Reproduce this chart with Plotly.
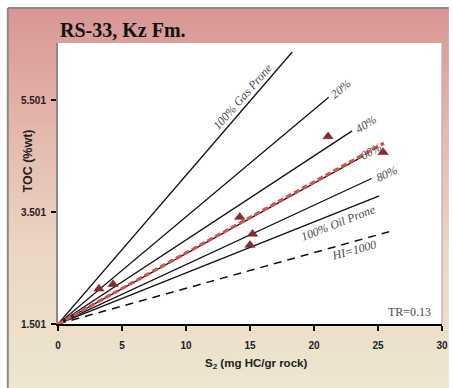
import math
import plotly.graph_objects as go

# ---------------- data ----------------
s2_samples = [3.2, 4.3, 14.2, 15.2, 15.0, 21.1, 25.4]
toc_samples = [2.13, 2.21, 3.41, 3.11, 2.91, 4.85, 4.57]

origin_s2 = 0.0
origin_toc = 1.501

line_labels = ["100% Gas Prone", "20%", "40%", "60%", "80%", "100% Oil Prone"]
line_end_s2 = [18.3, 21.15, 22.98, 23.85, 24.5, 25.1]
line_end_toc = [6.36, 5.55, 4.95, 4.50, 4.10, 3.79]

hi_label = "HI=1000"
hi_end_s2 = 25.87
hi_end_toc = 3.15

trend_end_s2 = 25.46
trend_end_toc = 4.73

x_tickvals = [0, 5, 10, 15, 20, 25, 30]
y_tickvals = [1.501, 3.501, 5.501]
y_ticktext = ["1.501", "3.501", "5.501"]

title_text = "RS-33, Kz Fm."
x_title = "S<sub>2</sub> (mg HC/gr rock)"
y_title = "TOC (%wt)"
tr_label = "TR=0.13"
tr_pos = (27.46, 1.72)

# ---------------- geometry / style ----------------
W, H = 453, 388
ML, MR, MT, MB = 58, 5, 43, 64
PW, PH = W - ML - MR, H - MT - MB
XR = [0, 30]
YR = [1.501, 6.52]
PX_PER_X = PW / (XR[1] - XR[0])
PX_PER_Y = PH / (YR[1] - YR[0])


def px_angle(x0, y0, x1, y1):
    dx = (x1 - x0) * PX_PER_X
    dy = (y1 - y0) * PX_PER_Y
    return math.degrees(math.atan2(dy, dx))


def px_to_paper_x(px):
    return (px - ML) / PW


def px_to_paper_y(py):
    return (H - MB - py) / PH


fig = go.Figure()

# reference lines
for lbl, xe, ye in zip(line_labels, line_end_s2, line_end_toc):
    fig.add_trace(go.Scatter(x=[origin_s2, xe], y=[origin_toc, ye], mode="lines",
                             line=dict(color="#111111", width=1.3),
                             hoverinfo="skip", showlegend=False))

fig.add_trace(go.Scatter(x=[origin_s2, hi_end_s2], y=[origin_toc, hi_end_toc], mode="lines",
                         line=dict(color="#111111", width=1.5, dash="8px,6px"),
                         hoverinfo="skip", showlegend=False))

fig.add_trace(go.Scatter(x=[origin_s2, trend_end_s2], y=[origin_toc, trend_end_toc], mode="lines",
                         line=dict(color="#d4524e", width=3.2, dash="6px,3px"),
                         hoverinfo="skip", showlegend=False))

fig.add_trace(go.Scatter(x=s2_samples, y=toc_samples, mode="markers",
                         marker=dict(symbol="triangle-up", size=9, color="#8c2b2b",
                                     line=dict(width=0.5, color="#5a1a1a")),
                         showlegend=False))

# label placement (fraction along line, pixel shifts)
label_place = [(0.786, 0, 13.6), (1.0, 12, 8), (1.0, 14, 6.7), (1.0, 8, 5),
               (1.0, 15, 4), (0.872, 0, -11)]
lab_font = dict(family="Liberation Serif", size=12, color="#4a4a4a", style="italic")

annotations = []
for lbl, xe, ye, (t, xs, ys) in zip(line_labels, line_end_s2, line_end_toc, label_place):
    ang = px_angle(origin_s2, origin_toc, xe, ye)
    annotations.append(dict(x=origin_s2 + t * (xe - origin_s2), y=origin_toc + t * (ye - origin_toc),
                            xref="x", yref="y", text=lbl, showarrow=False, textangle=-ang,
                            xshift=xs, yshift=ys, xanchor="center", yanchor="middle", font=lab_font))

t_hi = 0.895
annotations.append(dict(x=origin_s2 + t_hi * (hi_end_s2 - origin_s2),
                        y=origin_toc + t_hi * (hi_end_toc - origin_toc),
                        xref="x", yref="y", text=hi_label, showarrow=False,
                        textangle=-px_angle(origin_s2, origin_toc, hi_end_s2, hi_end_toc),
                        xshift=0, yshift=-8.6, font=lab_font))

annotations.append(dict(x=tr_pos[0], y=tr_pos[1], xref="x", yref="y", text=tr_label,
                        showarrow=False, font=dict(family="Liberation Serif", size=12, color="#4a4a4a")))

annotations.append(dict(x=0, y=px_to_paper_y(30), xref="paper", yref="paper", text=title_text,
                        showarrow=False, xanchor="left", yanchor="middle",
                        font=dict(family="Liberation Serif", size=20, color="#111111", weight="bold")))

annotations.append(dict(x=px_to_paper_x(259), y=px_to_paper_y(364), xref="paper", yref="paper",
                        text=x_title, showarrow=False, xanchor="center", yanchor="middle",
                        font=dict(family="Liberation Sans", size=11.5, color="#222222", weight="bold")))

annotations.append(dict(x=px_to_paper_x(28), y=px_to_paper_y(161), xref="paper", yref="paper",
                        text=y_title, showarrow=False, textangle=-90, xanchor="center", yanchor="middle",
                        font=dict(family="Liberation Sans", size=12.5, color="#222222", weight="bold")))

# background gradient (styling)
stops = [(8, (216, 150, 148)), (130, (228, 184, 172)), (250, (234, 215, 195)), (388, (237, 230, 208))]


def grad(py):
    for (p0, c0), (p1, c1) in zip(stops[:-1], stops[1:]):
        if p0 <= py <= p1:
            f = (py - p0) / (p1 - p0)
            return "rgb(%d,%d,%d)" % tuple(round(a + (b - a) * f) for a, b in zip(c0, c1))
    return "rgb(%d,%d,%d)" % stops[-1][1]


shapes = []
for py in range(8, 388, 2):
    shapes.append(dict(type="rect", xref="paper", yref="paper", layer="below",
                       x0=px_to_paper_x(7), x1=px_to_paper_x(W + 2),
                       y0=px_to_paper_y(py + 2.6), y1=px_to_paper_y(py),
                       fillcolor=grad(py + 1), line=dict(width=0)))
shapes.append(dict(type="rect", xref="paper", yref="paper", layer="below",
                   x0=0, x1=1, y0=0, y1=1, fillcolor="white", line=dict(width=0)))
shapes.append(dict(type="line", xref="paper", yref="paper", layer="below",
                   x0=1, x1=1, y0=0, y1=1, line=dict(color="#c9b3ae", width=1.5)))
shapes.append(dict(type="line", xref="paper", yref="paper", layer="below",
                   x0=px_to_paper_x(7), x1=px_to_paper_x(W + 2), y0=px_to_paper_y(8), y1=px_to_paper_y(8),
                   line=dict(color="#8a8a8a", width=2)))
shapes.append(dict(type="line", xref="paper", yref="paper", layer="below",
                   x0=px_to_paper_x(7), x1=px_to_paper_x(7), y0=px_to_paper_y(8), y1=px_to_paper_y(H + 2),
                   line=dict(color="#8a8a8a", width=2)))

tick_font = dict(family="Liberation Sans", size=10, color="#222222", weight="bold")

fig.update_layout(
    width=W, height=H,
    margin=dict(l=ML, r=MR, t=MT, b=MB),
    paper_bgcolor="white", plot_bgcolor="white",
    showlegend=False,
    shapes=shapes, annotations=annotations,
    xaxis=dict(range=XR, tickvals=x_tickvals, showgrid=False, zeroline=False,
               showline=True, linecolor="#000000", linewidth=1.5,
               ticks="outside", ticklen=5, tickwidth=1.5, tickcolor="#000000",
               tickfont=tick_font, ticklabelstandoff=6, ticklabeloverflow="allow"),
    yaxis=dict(range=YR, tickvals=y_tickvals, ticktext=y_ticktext, showgrid=False, zeroline=False,
               showline=True, linecolor="#8a8a8a", linewidth=2,
               ticks="outside", ticklen=5, tickwidth=1.5, tickcolor="#000000",
               tickfont=tick_font, ticklabelstandoff=3, ticklabeloverflow="allow"),
)

fig.write_html("out.html")
